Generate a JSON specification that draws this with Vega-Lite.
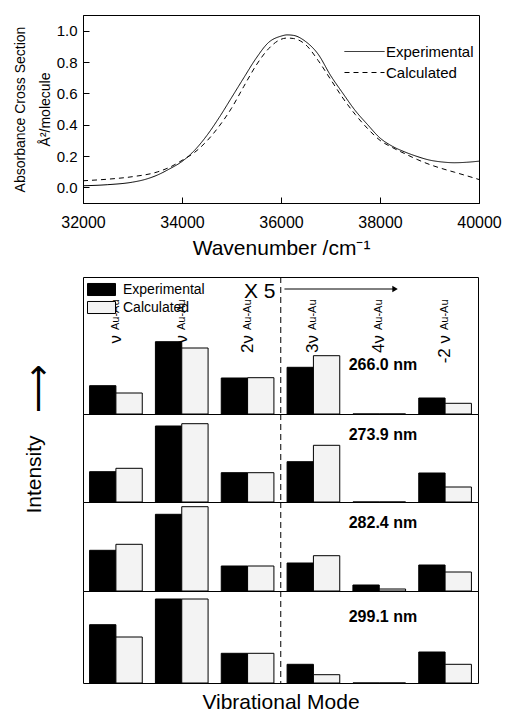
{
  "$schema": "https://vega.github.io/schema/vega-lite/v6.json",
  "padding": {"left": 12, "top": 14, "right": 5, "bottom": 5},
  "background": "white",
  "config": {
    "font": "Liberation Sans",
    "view": {"stroke": "black", "strokeWidth": 1},
    "axis": {"domainColor": "black", "tickColor": "black", "labelColor": "black", "titleColor": "black", "titleFontWeight": "normal", "grid": false}
  },
  "datasets": {
    "spectra": [
      {"wn": 32000, "series": "Experimental", "abs": 0.010},
      {"wn": 32500, "series": "Experimental", "abs": 0.017},
      {"wn": 33000, "series": "Experimental", "abs": 0.033},
      {"wn": 33250, "series": "Experimental", "abs": 0.050},
      {"wn": 33500, "series": "Experimental", "abs": 0.078},
      {"wn": 33750, "series": "Experimental", "abs": 0.118},
      {"wn": 34000, "series": "Experimental", "abs": 0.165},
      {"wn": 34250, "series": "Experimental", "abs": 0.235},
      {"wn": 34500, "series": "Experimental", "abs": 0.330},
      {"wn": 34750, "series": "Experimental", "abs": 0.445},
      {"wn": 35000, "series": "Experimental", "abs": 0.572},
      {"wn": 35250, "series": "Experimental", "abs": 0.700},
      {"wn": 35500, "series": "Experimental", "abs": 0.825},
      {"wn": 35750, "series": "Experimental", "abs": 0.925},
      {"wn": 36000, "series": "Experimental", "abs": 0.965},
      {"wn": 36125, "series": "Experimental", "abs": 0.973},
      {"wn": 36250, "series": "Experimental", "abs": 0.970},
      {"wn": 36500, "series": "Experimental", "abs": 0.930},
      {"wn": 36750, "series": "Experimental", "abs": 0.850},
      {"wn": 37000, "series": "Experimental", "abs": 0.715},
      {"wn": 37250, "series": "Experimental", "abs": 0.600},
      {"wn": 37500, "series": "Experimental", "abs": 0.490},
      {"wn": 37750, "series": "Experimental", "abs": 0.400},
      {"wn": 38000, "series": "Experimental", "abs": 0.315},
      {"wn": 38250, "series": "Experimental", "abs": 0.262},
      {"wn": 38500, "series": "Experimental", "abs": 0.226},
      {"wn": 38750, "series": "Experimental", "abs": 0.197},
      {"wn": 39000, "series": "Experimental", "abs": 0.174},
      {"wn": 39250, "series": "Experimental", "abs": 0.162},
      {"wn": 39500, "series": "Experimental", "abs": 0.157},
      {"wn": 39750, "series": "Experimental", "abs": 0.160},
      {"wn": 40000, "series": "Experimental", "abs": 0.167},
      {"wn": 32000, "series": "Calculated", "abs": 0.042},
      {"wn": 32500, "series": "Calculated", "abs": 0.052},
      {"wn": 33000, "series": "Calculated", "abs": 0.068},
      {"wn": 33500, "series": "Calculated", "abs": 0.098},
      {"wn": 33750, "series": "Calculated", "abs": 0.128},
      {"wn": 34000, "series": "Calculated", "abs": 0.172},
      {"wn": 34250, "series": "Calculated", "abs": 0.222},
      {"wn": 34500, "series": "Calculated", "abs": 0.295},
      {"wn": 34750, "series": "Calculated", "abs": 0.390},
      {"wn": 35000, "series": "Calculated", "abs": 0.505},
      {"wn": 35250, "series": "Calculated", "abs": 0.645},
      {"wn": 35500, "series": "Calculated", "abs": 0.780},
      {"wn": 35750, "series": "Calculated", "abs": 0.885},
      {"wn": 36000, "series": "Calculated", "abs": 0.945},
      {"wn": 36125, "series": "Calculated", "abs": 0.953},
      {"wn": 36250, "series": "Calculated", "abs": 0.950},
      {"wn": 36500, "series": "Calculated", "abs": 0.910},
      {"wn": 36750, "series": "Calculated", "abs": 0.810},
      {"wn": 37000, "series": "Calculated", "abs": 0.690},
      {"wn": 37250, "series": "Calculated", "abs": 0.570},
      {"wn": 37500, "series": "Calculated", "abs": 0.465},
      {"wn": 37750, "series": "Calculated", "abs": 0.375},
      {"wn": 38000, "series": "Calculated", "abs": 0.300},
      {"wn": 38250, "series": "Calculated", "abs": 0.254},
      {"wn": 38500, "series": "Calculated", "abs": 0.215},
      {"wn": 38750, "series": "Calculated", "abs": 0.178},
      {"wn": 39000, "series": "Calculated", "abs": 0.146},
      {"wn": 39250, "series": "Calculated", "abs": 0.120},
      {"wn": 39500, "series": "Calculated", "abs": 0.097},
      {"wn": 39750, "series": "Calculated", "abs": 0.074},
      {"wn": 40000, "series": "Calculated", "abs": 0.050}
    ],
    "bars": [
      {"p": 1, "k": 1, "s": "Experimental", "v": 28.3}, {"p": 1, "k": 1, "s": "Calculated", "v": 21},
      {"p": 1, "k": 2, "s": "Experimental", "v": 72.3}, {"p": 1, "k": 2, "s": "Calculated", "v": 66},
      {"p": 1, "k": 3, "s": "Experimental", "v": 36}, {"p": 1, "k": 3, "s": "Calculated", "v": 36.3},
      {"p": 1, "k": 4, "s": "Experimental", "v": 46.7}, {"p": 1, "k": 4, "s": "Calculated", "v": 58.3},
      {"p": 1, "k": 5, "s": "Experimental", "v": 0}, {"p": 1, "k": 5, "s": "Calculated", "v": 0},
      {"p": 1, "k": 6, "s": "Experimental", "v": 16}, {"p": 1, "k": 6, "s": "Calculated", "v": 10.7},
      {"p": 2, "k": 1, "s": "Experimental", "v": 30.3}, {"p": 2, "k": 1, "s": "Calculated", "v": 33.7},
      {"p": 2, "k": 2, "s": "Experimental", "v": 76}, {"p": 2, "k": 2, "s": "Calculated", "v": 78.3},
      {"p": 2, "k": 3, "s": "Experimental", "v": 29.3}, {"p": 2, "k": 3, "s": "Calculated", "v": 29.3},
      {"p": 2, "k": 4, "s": "Experimental", "v": 40.3}, {"p": 2, "k": 4, "s": "Calculated", "v": 56.7},
      {"p": 2, "k": 5, "s": "Experimental", "v": 0}, {"p": 2, "k": 5, "s": "Calculated", "v": 0},
      {"p": 2, "k": 6, "s": "Experimental", "v": 29}, {"p": 2, "k": 6, "s": "Calculated", "v": 15},
      {"p": 3, "k": 1, "s": "Experimental", "v": 40.7}, {"p": 3, "k": 1, "s": "Calculated", "v": 46.7},
      {"p": 3, "k": 2, "s": "Experimental", "v": 76.7}, {"p": 3, "k": 2, "s": "Calculated", "v": 84.3},
      {"p": 3, "k": 3, "s": "Experimental", "v": 25}, {"p": 3, "k": 3, "s": "Calculated", "v": 25},
      {"p": 3, "k": 4, "s": "Experimental", "v": 28}, {"p": 3, "k": 4, "s": "Calculated", "v": 35.3},
      {"p": 3, "k": 5, "s": "Experimental", "v": 6}, {"p": 3, "k": 5, "s": "Calculated", "v": 2},
      {"p": 3, "k": 6, "s": "Experimental", "v": 26}, {"p": 3, "k": 6, "s": "Calculated", "v": 19},
      {"p": 4, "k": 1, "s": "Experimental", "v": 58.3}, {"p": 4, "k": 1, "s": "Calculated", "v": 46},
      {"p": 4, "k": 2, "s": "Experimental", "v": 84}, {"p": 4, "k": 2, "s": "Calculated", "v": 84},
      {"p": 4, "k": 3, "s": "Experimental", "v": 29.7}, {"p": 4, "k": 3, "s": "Calculated", "v": 29.7},
      {"p": 4, "k": 4, "s": "Experimental", "v": 18.7}, {"p": 4, "k": 4, "s": "Calculated", "v": 8.3},
      {"p": 4, "k": 5, "s": "Experimental", "v": 0}, {"p": 4, "k": 5, "s": "Calculated", "v": 0},
      {"p": 4, "k": 6, "s": "Experimental", "v": 31}, {"p": 4, "k": 6, "s": "Calculated", "v": 18.7}
    ],
    "modes": [
      {"k": 1, "pre": "ν", "sub": "Au-Au"},
      {"k": 2, "pre": "ν", "sub": "Au-Au"},
      {"k": 3, "pre": "2ν", "sub": "Au-Au"},
      {"k": 4, "pre": "3ν", "sub": "Au-Au"},
      {"k": 5, "pre": "4ν", "sub": "Au-Au"},
      {"k": 6, "pre": "-2 ν", "sub": "Au-Au"}
    ]
  },
  "resolve": {"scale": {"x": "independent", "y": "independent"}},
  "spacing": 17,
  "vconcat": [
    {
      "width": 396,
      "height": 188,
      "data": {"name": "spectra"},
      "mark": {"type": "line", "strokeWidth": 1, "interpolate": "monotone", "color": "black"},
      "encoding": {
        "x": {"field": "wn", "type": "quantitative",
          "scale": {"domain": [32000, 40000], "nice": false, "zero": false},
          "axis": {"values": [32000, 34000, 36000, 38000, 40000], "format": "d", "title": "Wavenumber /cm⁻¹",
            "titleFontSize": 21, "labelFontSize": 16, "tickSize": -6, "labelPadding": 17, "titlePadding": 7, "labelFlush": false}},
        "y": {"field": "abs", "type": "quantitative",
          "scale": {"domain": [-0.1, 1.1], "nice": false, "zero": false},
          "axis": {"values": [0, 0.2, 0.4, 0.6, 0.8, 1.0], "format": ".1f", "title": ["Absorbance Cross Section", "Å²/molecule"],
            "titleFontSize": 14, "titleLineHeight": 25, "labelFontSize": 15, "tickSize": -6, "labelPadding": 12, "titlePadding": 4}},
        "strokeDash": {"field": "series", "type": "nominal",
          "scale": {"domain": ["Experimental", "Calculated"], "range": [[1, 0], [5, 4]]},
          "legend": {"title": null, "orient": "none", "legendX": 274, "legendY": 29, "symbolType": "M-3,0H3", "symbolSize": 178,
            "symbolStrokeWidth": 1, "symbolStrokeColor": "black", "labelFontSize": 15, "labelOffset": 14, "rowPadding": 5, "labelColor": "black"}}
      }
    },
    {
      "spacing": 0,
      "bounds": "flush",
      "resolve": {"scale": {"x": "independent", "y": "independent", "fill": "independent"}, "legend": {"fill": "independent"}},
      "vconcat": [
        {
          "width": 395, "height": 137,
          "layer": [
            {
              "data": {"name": "bars"},
              "transform": [{"filter": "datum.p == 1"}],
              "mark": {"type": "bar", "stroke": "black", "strokeWidth": 1},
              "encoding": {
                "x": {"field": "k", "type": "nominal", "scale": {"paddingInner": 0.2, "paddingOuter": 0.1}, "axis": null},
                "xOffset": {"field": "s", "type": "nominal", "sort": ["Experimental", "Calculated"], "scale": {"paddingInner": 0, "paddingOuter": 0}},
                "y": {"field": "v", "type": "quantitative", "scale": {"domain": [0, 137], "nice": false},
                  "axis": {"title": "⟶", "titleFontSize": 34, "titleAngle": 270, "titleX": -45, "titleY": 111, "titleAlign": "center", "titleBaseline": "middle",
                    "domain": false, "ticks": false, "labels": false}},
                "fill": {"field": "s", "type": "nominal", "scale": {"domain": ["Experimental", "Calculated"], "range": ["black", "#f3f3f3"]},
                  "legend": {"title": null, "orient": "none", "legendX": 11, "legendY": 5, "symbolType": "M-2,-0.86H2V0.86H-2Z", "symbolSize": 196,
                    "symbolStrokeColor": "black", "symbolStrokeWidth": 1, "labelFontSize": 14, "labelOffset": 14, "rowPadding": 1, "labelColor": "black"}}
              }
            },
            {
              "data": {"values": [{}]},
              "mark": {"type": "rule", "strokeDash": [6, 4], "color": "black", "strokeWidth": 1},
              "encoding": {"x": {"datum": 4, "type": "nominal", "bandPosition": -0.12, "axis": null}}
            },
            {
              "data": {"values": [{"t": "266.0 nm"}]},
              "mark": {"type": "text", "fontSize": 16, "fontWeight": "bold", "align": "center", "baseline": "middle", "color": "black"},
              "encoding": {"x": {"datum": 5, "type": "nominal", "bandPosition": 0.57, "axis": null},
                "y": {"datum": 49, "type": "quantitative", "axis": {"title": "⟶", "titleFontSize": 34, "titleAngle": 270, "titleX": -45, "titleY": 111, "titleAlign": "center", "titleBaseline": "middle", "domain": false, "ticks": false, "labels": false}},
                "text": {"field": "t"}}
            },
            {
              "data": {"values": [{"t": "X 5"}]},
              "mark": {"type": "text", "fontSize": 21, "align": "right", "baseline": "middle", "color": "black"},
              "encoding": {"x": {"datum": 3, "type": "nominal", "bandPosition": 1.03, "axis": null},
                "y": {"datum": 122, "type": "quantitative", "axis": {"title": "⟶", "titleFontSize": 34, "titleAngle": 270, "titleX": -45, "titleY": 111, "titleAlign": "center", "titleBaseline": "middle", "domain": false, "ticks": false, "labels": false}},
                "text": {"field": "t"}}
            },
            {
              "data": {"values": [{}]},
              "mark": {"type": "rule", "color": "black", "strokeWidth": 1},
              "encoding": {"x": {"datum": 4, "type": "nominal", "bandPosition": -0.05, "axis": null}, "x2": {"datum": 5, "bandPosition": 0.8},
                "y": {"datum": 125, "type": "quantitative", "axis": {"title": "⟶", "titleFontSize": 34, "titleAngle": 270, "titleX": -45, "titleY": 111, "titleAlign": "center", "titleBaseline": "middle", "domain": false, "ticks": false, "labels": false}}}
            },
            {
              "data": {"values": [{}]},
              "mark": {"type": "point", "shape": "triangle-right", "filled": true, "color": "black", "size": 40, "opacity": 1},
              "encoding": {"x": {"datum": 5, "type": "nominal", "bandPosition": 0.8, "axis": null},
                "y": {"datum": 125, "type": "quantitative", "axis": {"title": "⟶", "titleFontSize": 34, "titleAngle": 270, "titleX": -45, "titleY": 111, "titleAlign": "center", "titleBaseline": "middle", "domain": false, "ticks": false, "labels": false}}}
            },
            {
              "data": {"name": "modes"},
              "mark": {"type": "text", "angle": 270, "fontSize": 17, "align": "right", "baseline": "middle", "dx": 2, "color": "black"},
              "encoding": {"x": {"field": "k", "type": "nominal", "axis": null},
                "y": {"datum": 77, "type": "quantitative", "axis": {"title": "⟶", "titleFontSize": 34, "titleAngle": 270, "titleX": -45, "titleY": 111, "titleAlign": "center", "titleBaseline": "middle", "domain": false, "ticks": false, "labels": false}},
                "text": {"field": "pre"}}
            },
            {
              "data": {"name": "modes"},
              "mark": {"type": "text", "angle": 270, "fontSize": 11, "align": "left", "baseline": "middle", "dx": 7, "color": "black"},
              "encoding": {"x": {"field": "k", "type": "nominal", "axis": null},
                "y": {"datum": 77, "type": "quantitative", "axis": {"title": "⟶", "titleFontSize": 34, "titleAngle": 270, "titleX": -45, "titleY": 111, "titleAlign": "center", "titleBaseline": "middle", "domain": false, "ticks": false, "labels": false}},
                "text": {"field": "sub"}}
            }
          ]
        },
        {
          "width": 395, "height": 88,
          "layer": [
            {
              "data": {"name": "bars"},
              "transform": [{"filter": "datum.p == 2"}],
              "mark": {"type": "bar", "stroke": "black", "strokeWidth": 1},
              "encoding": {
                "x": {"field": "k", "type": "nominal", "scale": {"paddingInner": 0.2, "paddingOuter": 0.1}, "axis": null},
                "xOffset": {"field": "s", "type": "nominal", "sort": ["Experimental", "Calculated"], "scale": {"paddingInner": 0, "paddingOuter": 0}},
                "y": {"field": "v", "type": "quantitative", "scale": {"domain": [0, 88], "nice": false},
                  "axis": {"title": "Intensity", "titleFontSize": 21, "titleAngle": 270, "titleX": -43, "titleY": 60, "titleAlign": "center", "titleBaseline": "alphabetic",
                    "domain": false, "ticks": false, "labels": false}},
                "fill": {"field": "s", "type": "nominal", "scale": {"domain": ["Experimental", "Calculated"], "range": ["black", "#f3f3f3"]}, "legend": null}
              }
            },
            {
              "data": {"values": [{}]},
              "mark": {"type": "rule", "strokeDash": [6, 4], "color": "black", "strokeWidth": 1},
              "encoding": {"x": {"datum": 4, "type": "nominal", "bandPosition": -0.12, "axis": null}}
            },
            {
              "data": {"values": [{"t": "273.9 nm"}]},
              "mark": {"type": "text", "fontSize": 16, "fontWeight": "bold", "align": "center", "baseline": "middle", "color": "black"},
              "encoding": {"x": {"datum": 5, "type": "nominal", "bandPosition": 0.57, "axis": null},
                "y": {"datum": 67, "type": "quantitative", "axis": {"title": "Intensity", "titleFontSize": 21, "titleAngle": 270, "titleX": -43, "titleY": 60, "titleAlign": "center", "titleBaseline": "alphabetic", "domain": false, "ticks": false, "labels": false}},
                "text": {"field": "t"}}
            }
          ]
        },
        {
          "width": 395, "height": 89,
          "layer": [
            {
              "data": {"name": "bars"},
              "transform": [{"filter": "datum.p == 3"}],
              "mark": {"type": "bar", "stroke": "black", "strokeWidth": 1},
              "encoding": {
                "x": {"field": "k", "type": "nominal", "scale": {"paddingInner": 0.2, "paddingOuter": 0.1}, "axis": null},
                "xOffset": {"field": "s", "type": "nominal", "sort": ["Experimental", "Calculated"], "scale": {"paddingInner": 0, "paddingOuter": 0}},
                "y": {"field": "v", "type": "quantitative", "scale": {"domain": [0, 89], "nice": false}, "axis": null},
                "fill": {"field": "s", "type": "nominal", "scale": {"domain": ["Experimental", "Calculated"], "range": ["black", "#f3f3f3"]}, "legend": null}
              }
            },
            {
              "data": {"values": [{}]},
              "mark": {"type": "rule", "strokeDash": [6, 4], "color": "black", "strokeWidth": 1},
              "encoding": {"x": {"datum": 4, "type": "nominal", "bandPosition": -0.12, "axis": null}}
            },
            {
              "data": {"values": [{"t": "282.4 nm"}]},
              "mark": {"type": "text", "fontSize": 16, "fontWeight": "bold", "align": "center", "baseline": "middle", "color": "black"},
              "encoding": {"x": {"datum": 5, "type": "nominal", "bandPosition": 0.57, "axis": null}, "y": {"datum": 68, "type": "quantitative", "axis": null}, "text": {"field": "t"}}
            }
          ]
        },
        {
          "width": 395, "height": 92,
          "layer": [
            {
              "data": {"name": "bars"},
              "transform": [{"filter": "datum.p == 4"}],
              "mark": {"type": "bar", "stroke": "black", "strokeWidth": 1},
              "encoding": {
                "x": {"field": "k", "type": "nominal", "scale": {"paddingInner": 0.2, "paddingOuter": 0.1},
                  "axis": {"title": "Vibrational Mode", "titleFontSize": 21, "titlePadding": 8, "labels": false, "ticks": false, "domain": false}},
                "xOffset": {"field": "s", "type": "nominal", "sort": ["Experimental", "Calculated"], "scale": {"paddingInner": 0, "paddingOuter": 0}},
                "y": {"field": "v", "type": "quantitative", "scale": {"domain": [0, 92], "nice": false}, "axis": null},
                "fill": {"field": "s", "type": "nominal", "scale": {"domain": ["Experimental", "Calculated"], "range": ["black", "#f3f3f3"]}, "legend": null}
              }
            },
            {
              "data": {"values": [{}]},
              "mark": {"type": "rule", "strokeDash": [6, 4], "color": "black", "strokeWidth": 1},
              "encoding": {"x": {"datum": 4, "type": "nominal", "bandPosition": -0.12,
                "axis": {"title": "Vibrational Mode", "titleFontSize": 21, "titlePadding": 8, "labels": false, "ticks": false, "domain": false}}}
            },
            {
              "data": {"values": [{"t": "299.1 nm"}]},
              "mark": {"type": "text", "fontSize": 16, "fontWeight": "bold", "align": "center", "baseline": "middle", "color": "black"},
              "encoding": {"x": {"datum": 5, "type": "nominal", "bandPosition": 0.57,
                "axis": {"title": "Vibrational Mode", "titleFontSize": 21, "titlePadding": 8, "labels": false, "ticks": false, "domain": false}},
                "y": {"datum": 66.5, "type": "quantitative", "axis": null}, "text": {"field": "t"}}
            }
          ]
        }
      ]
    }
  ]
}
